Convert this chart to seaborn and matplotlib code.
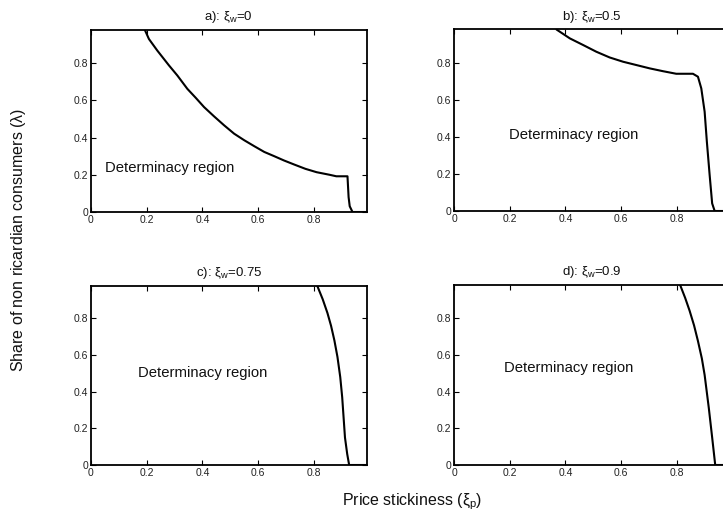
import matplotlib
matplotlib.use("Agg")
import matplotlib.pyplot as plt
import seaborn as sns
import pandas as pd

# Boundary of the determinacy region: price stickiness (xi_p) vs share of
# non-Ricardian consumers (lambda), for four degrees of wage stickiness.
titles = [r"a): $\xi_{\mathrm{w}}$=0", r"b): $\xi_{\mathrm{w}}$=0.5",
          r"c): $\xi_{\mathrm{w}}$=0.75", r"d): $\xi_{\mathrm{w}}$=0.9"]

xi_p_a = [0.193, 0.208, 0.238, 0.28, 0.31, 0.346, 0.376, 0.406, 0.442, 0.478,
          0.514, 0.55, 0.586, 0.622, 0.658, 0.693, 0.73, 0.77, 0.81, 0.857,
          0.881, 0.921, 0.925, 0.929, 0.939, 0.99]
lam_a = [0.98, 0.93, 0.868, 0.788, 0.734, 0.662, 0.614, 0.564, 0.514, 0.466,
         0.421, 0.386, 0.354, 0.323, 0.3, 0.277, 0.255, 0.232, 0.214, 0.2,
         0.192, 0.192, 0.08, 0.031, 0.0, 0.0]

xi_p_b = [0.368, 0.416, 0.464, 0.511, 0.559, 0.607, 0.655, 0.703, 0.75, 0.798,
          0.858, 0.876, 0.888, 0.9, 0.908, 0.918, 0.927, 0.936, 0.99]
lam_b = [0.98, 0.932, 0.896, 0.86, 0.829, 0.806, 0.788, 0.77, 0.755, 0.741,
         0.741, 0.725, 0.662, 0.536, 0.374, 0.194, 0.041, 0.0, 0.0]

xi_p_c = [0.812, 0.832, 0.849, 0.862, 0.874, 0.885, 0.895, 0.902, 0.907, 0.912,
          0.92, 0.927, 0.99]
lam_c = [0.98, 0.905, 0.83, 0.76, 0.68, 0.59, 0.48, 0.37, 0.26, 0.15,
         0.06, 0.0, 0.0]

xi_p_d = [0.812, 0.83, 0.846, 0.862, 0.876, 0.89, 0.90, 0.915, 0.927, 0.938, 0.99]
lam_d = [0.98, 0.91, 0.84, 0.76, 0.675, 0.58, 0.49, 0.31, 0.15, 0.0, 0.0]

region_label = "Determinacy region"
region_x = [0.05, 0.198, 0.167, 0.181]
region_y = [0.234, 0.41, 0.50, 0.528]

tick_values = [0, 0.2, 0.4, 0.6, 0.8]
tick_labels = ["0", "0.2", "0.4", "0.6", "0.8"]

x_label = r"Price stickiness ($\xi_{\mathrm{p}}$)"
y_label = r"Share of non ricardian consumers ($\lambda$)"

sns.set_theme(style="white")
plt.rcParams["font.family"] = ["Liberation Sans", "DejaVu Sans"]
plt.rcParams["mathtext.fontset"] = "custom"
plt.rcParams["mathtext.rm"] = "Liberation Sans"
plt.rcParams["mathtext.it"] = "Liberation Sans"
plt.rcParams["mathtext.bf"] = "Liberation Sans:bold"

fig = plt.figure(figsize=(7.23, 5.22), dpi=100)
fig.patch.set_facecolor("white")

W, H = 723.0, 522.0
ax_w = 275.7 / W
boxes = [
    (91 / W, (H - 212) / H, ax_w, 182.3 / H),
    (454 / W, (H - 211) / H, ax_w, 181.5 / H),
    (91 / W, (H - 465) / H, ax_w, 179.5 / H),
    (454 / W, (H - 465) / H, ax_w, 180.0 / H),
]

series = [(xi_p_a, lam_a), (xi_p_b, lam_b), (xi_p_c, lam_c), (xi_p_d, lam_d)]

for i, (box, (xs, ys)) in enumerate(zip(boxes, series)):
    ax = fig.add_axes(box)
    df = pd.DataFrame({"xi_p": xs, "lam": ys})
    sns.lineplot(data=df, x="xi_p", y="lam", ax=ax, color="black",
                 linewidth=1.5, sort=False, estimator=None)
    ax.set_xlim(0, 0.99)
    ax.set_ylim(0, 0.98)
    ax.set_xticks(tick_values)
    ax.set_xticklabels(tick_labels)
    ax.set_yticks(tick_values)
    ax.set_yticklabels(tick_labels)
    ax.tick_params(direction="in", length=3.5, width=0.8, color="black",
                   labelsize=7.5, labelcolor="#222222", pad=2,
                   top=True, right=True, bottom=True, left=True)
    ax.set_xlabel("")
    ax.set_ylabel("")
    for sp in ax.spines.values():
        sp.set_visible(True)
        sp.set_color("black")
        sp.set_linewidth(1.3)
    ax.set_title(titles[i], fontsize=9.5, pad=7, color="#111111")
    ax.text(region_x[i], region_y[i], region_label, fontsize=10.7,
            ha="left", va="center", color="#111111")

fig.text(412 / W, 1 - 502 / H, x_label, fontsize=11.5, ha="center",
         va="center", color="#111111")
fig.text(19 / W, 1 - 240 / H, y_label, fontsize=11.5, ha="center",
         va="center", rotation=90, color="#111111")

fig.savefig("out.png", dpi=100, facecolor="white")
